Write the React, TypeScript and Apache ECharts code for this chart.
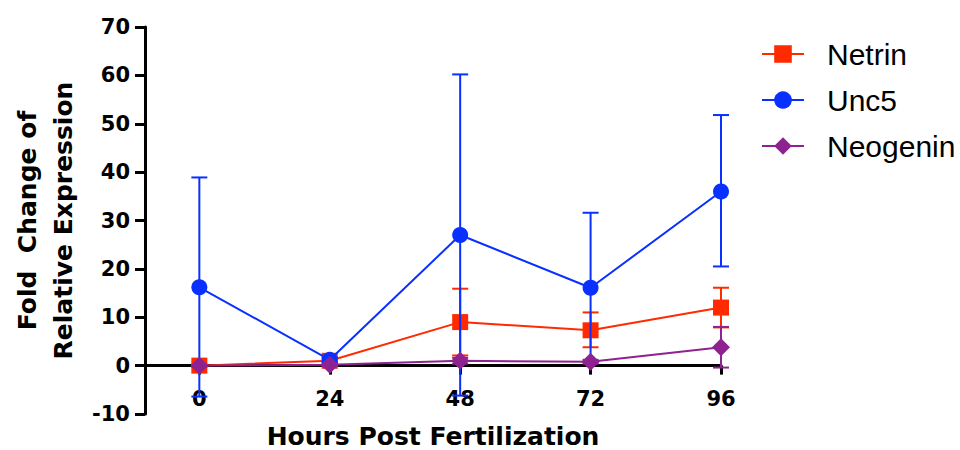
import React, { useEffect, useRef } from "react";
import * as echarts from "echarts";

const hours = [0, 24, 48, 72, 96];
const xTicks = [0, 24, 48, 72, 96];

const netrinMean = [0, 1.0, 9.0, 7.3, 12.0];
const netrinLow = [-0.2, 0.6, 2.1, 3.8, 7.9];
const netrinHigh = [0.2, 1.4, 15.9, 11.0, 16.1];

const unc5Mean = [16.2, 1.2, 27.0, 16.1, 36.0];
const unc5Low = [-6.4, 0.7, -6.2, 0.8, 20.5];
const unc5High = [38.9, 1.7, 60.2, 31.6, 51.8];

const neoMean = [0, 0.2, 1.0, 0.8, 3.8];
const neoLow = [-0.2, 0.0, 0.4, 0.4, -0.4];
const neoHigh = [0.2, 0.4, 1.6, 1.2, 8.0];

const RED = "#ff2a00";
const BLUE = "#0a30ff";
const PURPLE = "#8e2290";

function errSeries(name: string, low: number[], high: number[], color: string, z: number) {
  return {
    type: "custom",
    name: name + " SEM",
    z,
    silent: true,
    data: hours.map((h, i) => [h, low[i], high[i]]),
    encode: { x: 0, y: [1, 2] },
    renderItem: (params: any, api: any) => {
      const x = api.value(0);
      const lo = api.coord([x, api.value(1)]);
      const hi = api.coord([x, api.value(2)]);
      const w = 8;
      const style = { stroke: color, lineWidth: 2 };
      return {
        type: "group",
        children: [
          { type: "line", shape: { x1: hi[0], y1: hi[1], x2: lo[0], y2: lo[1] }, style },
          { type: "line", shape: { x1: hi[0] - w, y1: hi[1], x2: hi[0] + w, y2: hi[1] }, style },
          { type: "line", shape: { x1: lo[0] - w, y1: lo[1], x2: lo[0] + w, y2: lo[1] }, style },
        ],
      };
    },
  };
}

function lineSeries(name: string, mean: number[], color: string, symbol: string, size: any, z: number) {
  return {
    type: "line",
    name,
    z,
    data: hours.map((h, i) => [h, mean[i]]),
    symbol,
    symbolSize: size,
    itemStyle: { color },
    lineStyle: { color, width: 2 },
  };
}

export default function App() {
  const ref = useRef<HTMLDivElement>(null);
  useEffect(() => {
    if (!ref.current) return;
    const chart = echarts.init(ref.current, null, { renderer: "svg" });
    const axisFont = "'DejaVu Sans', sans-serif";
    chart.setOption({
      animation: false,
      backgroundColor: "#ffffff",
      grid: {
        left: 145,
        right: 239,
        top: 27,
        bottom: 36,
        containLabel: false,
        outerBoundsMode: "none",
      },
      legend: {
        orient: "vertical",
        left: 761,
        top: 39,
        padding: 0,
        itemWidth: 42,
        itemHeight: 22,
        itemGap: 16,
        data: ["Netrin", "Unc5", "Neogenin"],
        textStyle: {
          fontFamily: "'Liberation Sans', Arial, sans-serif",
          fontSize: 30,
          lineHeight: 30,
          color: "#000",
          padding: [0, 0, 0, 18],
        },
      },
      xAxis: {
        type: "value",
        min: -10,
        max: 96,
        splitLine: { show: false },
        axisLine: { onZero: true, lineStyle: { color: "#000", width: 3 } },
        axisTick: {
          show: true,
          inside: false,
          length: 9,
          customValues: xTicks,
          lineStyle: { color: "#000", width: 3 },
        },
        axisLabel: {
          customValues: xTicks,
          margin: -26,
          color: "#000",
          fontFamily: axisFont,
          fontWeight: "bold",
          fontSize: 21,
        },
        name: "Hours Post Fertilization",
        nameLocation: "middle",
        nameGap: 10,
        nameMoveOverlap: false,
        nameTextStyle: {
          color: "#000",
          fontFamily: axisFont,
          fontWeight: "bold",
          fontSize: 25,
        },
      },
      yAxis: {
        type: "value",
        min: -10,
        max: 70,
        interval: 10,
        splitLine: { show: false },
        axisLine: { show: true, onZero: false, lineStyle: { color: "#000", width: 3 } },
        axisTick: { show: true, inside: false, length: 10, lineStyle: { color: "#000", width: 3 } },
        axisLabel: {
          margin: 15,
          color: "#000",
          fontFamily: axisFont,
          fontWeight: "bold",
          fontSize: 21,
        },
        name: "Fold  Change of\nRelative Expression",
        nameLocation: "middle",
        nameRotate: 90,
        nameGap: 64,
        nameTextStyle: {
          color: "#000",
          fontFamily: axisFont,
          fontWeight: "bold",
          fontSize: 25,
          lineHeight: 36,
        },
      },
      series: [
        errSeries("Netrin", netrinLow, netrinHigh, RED, 2),
        lineSeries("Netrin", netrinMean, RED, "rect", 16, 2),
        errSeries("Unc5", unc5Low, unc5High, BLUE, 3),
        lineSeries("Unc5", unc5Mean, BLUE, "circle", 16, 3),
        errSeries("Neogenin", neoLow, neoHigh, PURPLE, 4),
        lineSeries("Neogenin", neoMean, PURPLE, "diamond", 18, 4),
      ],
    });
    return () => chart.dispose();
  }, []);
  return (
    <div
      ref={ref}
      style={{ position: "fixed", left: 0, top: 0, width: 960, height: 450, background: "#fff" }}
    />
  );
}
